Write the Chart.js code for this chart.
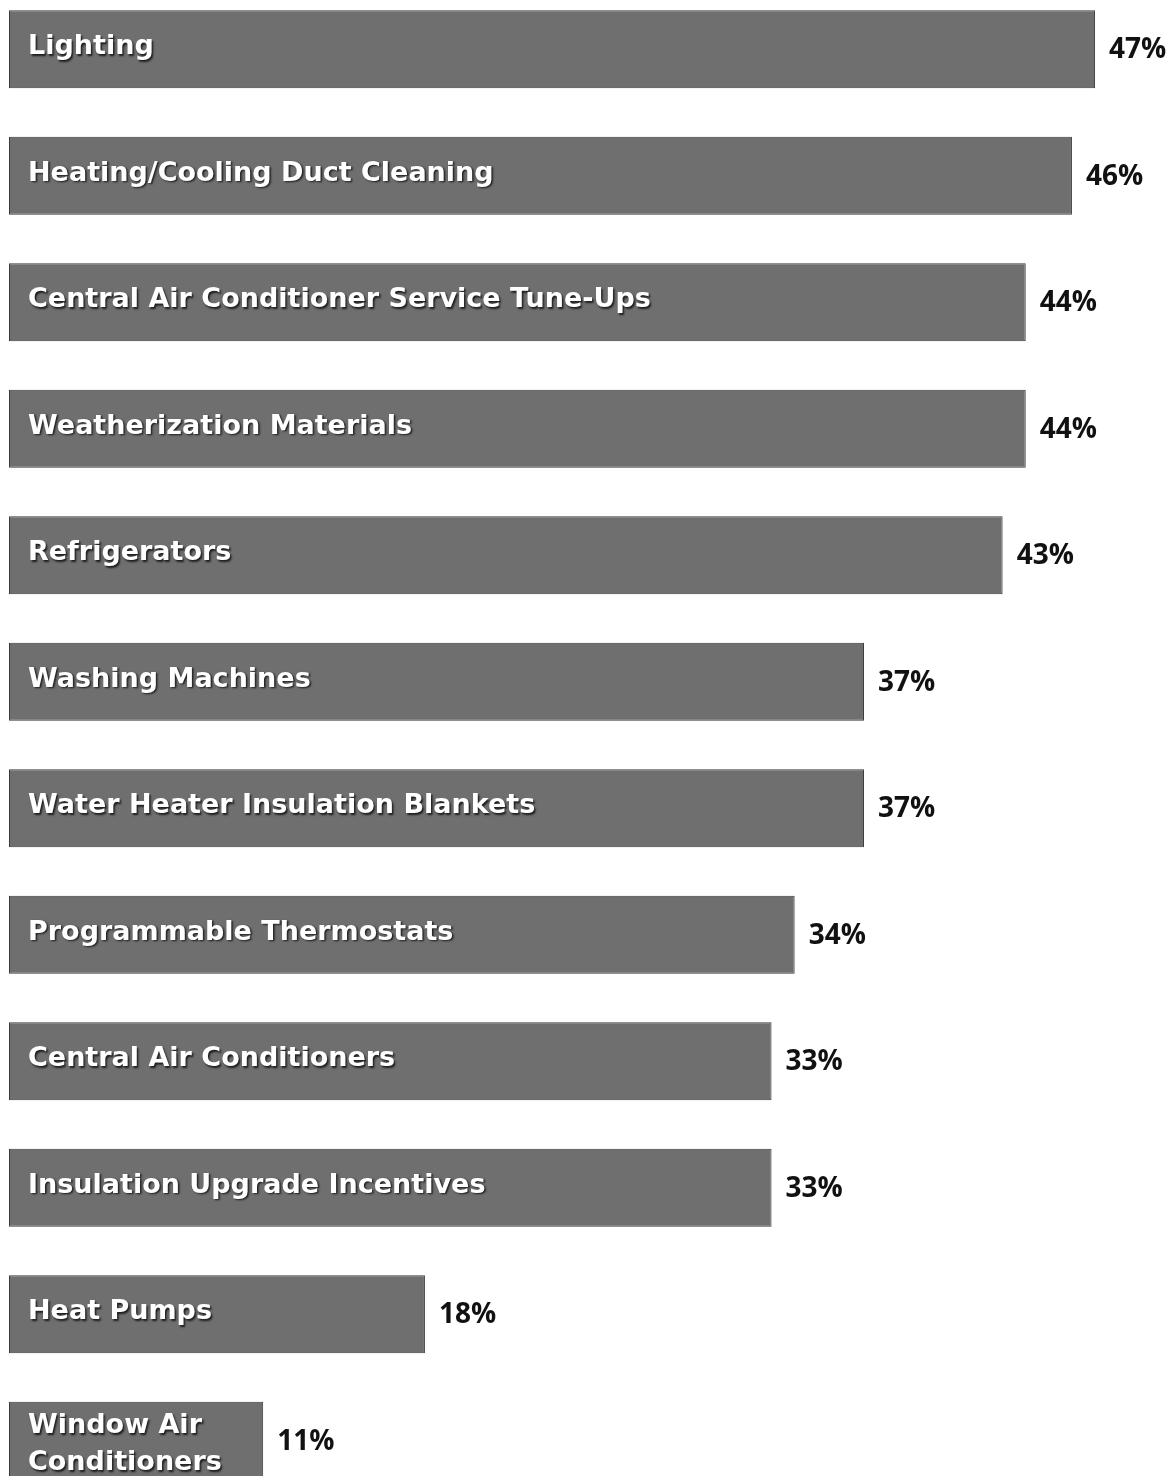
<!DOCTYPE html>
<html>
<head>
<meta charset="utf-8">
<script src="https://cdn.jsdelivr.net/npm/chart.js@4/dist/chart.umd.min.js"></script>
<style>
  html, body { margin: 0; padding: 0; background: #fff; }
  #wrap { position: relative; width: 1169px; height: 1476px; overflow: hidden; }
  #box { position: absolute; left: 0; top: -14px; width: 1169px; height: 1518px; }
</style>
</head>
<body>
<div id="wrap"><div id="box"><canvas id="chart"></canvas></div></div>
<script>
const categories = [
    'Lighting',
    'Heating/Cooling Duct Cleaning',
    'Central Air Conditioner Service Tune-Ups',
    'Weatherization Materials',
    'Refrigerators',
    'Washing Machines',
    'Water Heater Insulation Blankets',
    'Programmable Thermostats',
    'Central Air Conditioners',
    'Insulation Upgrade Incentives',
    'Heat Pumps',
    ['Window Air', 'Conditioners']
];
const values = [47, 46, 44, 44, 43, 37, 37, 34, 33, 33, 18, 11];
const valueLabels = values.map(v => v + '%');

// white names inside the bars, black percentages after them
const barLabels = {
    id: 'barLabels',
    afterDatasetsDraw(chart) {
        const ctx = chart.ctx;
        const meta = chart.getDatasetMeta(0);
        ctx.save();
        ctx.textBaseline = 'alphabetic';
        ctx.textAlign = 'left';
        meta.data.forEach((bar, i) => {
            const lines = Array.isArray(categories[i]) ? categories[i] : [categories[i]];
            ctx.font = 'bold 27px "DejaVu Sans", sans-serif';
            ctx.fillStyle = '#ffffff';
            ctx.shadowColor = 'rgba(20,20,20,0.9)';
            ctx.shadowOffsetX = 1.5;
            ctx.shadowOffsetY = 1.5;
            ctx.shadowBlur = 2;
            const lh = 37;
            const base = lines.length > 1 ? bar.y - 7.5 : bar.y + 5;
            lines.forEach((ln, k) => ctx.fillText(ln, 28, base + k * lh));

            ctx.shadowColor = 'transparent';
            ctx.fillStyle = '#111111';
            ctx.font = 'bold 28px "Open Sans", sans-serif';
            ctx.fillText(valueLabels[i], bar.x + 14, bar.y + 9);
        });
        ctx.restore();
    }
};

new Chart(document.getElementById('chart'), {
    type: 'bar',
    data: {
        labels: categories,
        datasets: [{
            data: values,
            backgroundColor: '#6f6f6f',
            borderColor: '#3a3a3a',
            borderWidth: 1,
            borderSkipped: false,
            barPercentage: 0.617,
            categoryPercentage: 1.0
        }]
    },
    options: {
        indexAxis: 'y',
        responsive: true,
        maintainAspectRatio: false,
        animation: false,
        layout: { padding: { left: 9, right: 0, top: 0, bottom: 0 } },
        plugins: {
            legend: { display: false },
            tooltip: { enabled: false }
        },
        scales: {
            x: { display: false, min: 0, max: 50.2 },
            y: { display: false }
        }
    },
    plugins: [barLabels]
});
</script>
</body>
</html>
